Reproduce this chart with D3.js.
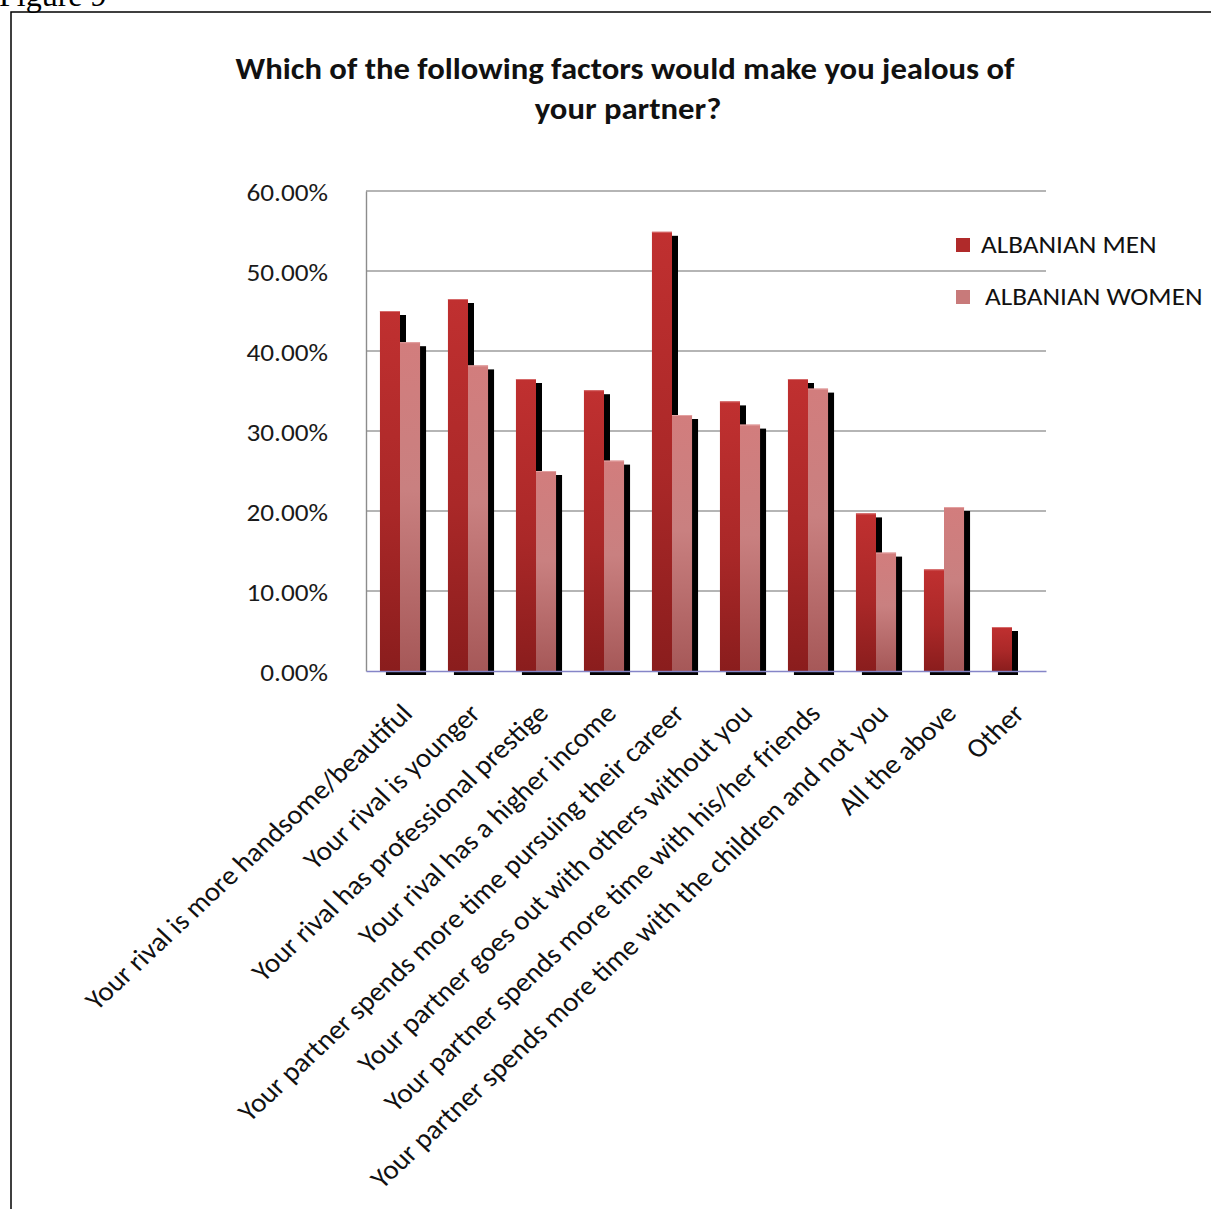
<!DOCTYPE html>
<html>
<head>
<meta charset="utf-8">
<script src="https://cdn.jsdelivr.net/npm/d3@7"></script>
<style>
  html, body { margin: 0; padding: 0; background: #ffffff; }
  svg { display: block; }
</style>
</head>
<body>
<script>
// Survey answers: share of respondents who would become jealous, by factor
const categories = [
  "Your rival is more handsome/beautiful",
  "Your rival is younger",
  "Your rival has professional prestige",
  "Your rival has a higher income",
  "Your partner spends more time pursuing their career",
  "Your partner goes out with others without you",
  "Your partner spends more time with his/her friends",
  "Your partner spends more time with the children and not you",
  "All the above",
  "Other"
];
const seriesNames = ["ALBANIAN MEN", "ALBANIAN WOMEN"];
const menValues   = [45.0, 46.5, 36.5, 35.1, 54.9, 33.7, 36.5, 19.7, 12.7, 5.5];
const womenValues = [41.1, 38.2, 25.0, 26.3, 32.0, 30.8, 35.3, 14.8, 20.5, 0];
const yTicks = [0, 10, 20, 30, 40, 50, 60];
const titleLines = ["Which of the following factors would make you jealous of", "your partner?"];
const captionText = "Figure 9";

const W = 1211, H = 1209;
const font = "Carlito, Calibri, Lato, sans-serif";
const stretch = 1.09;           // text is drawn slightly wide
const plot = { left: 366, right: 1046, top: 191, bottom: 671 };

const svg = d3.select("body").append("svg")
  .attr("width", W).attr("height", H);

// caption above the frame
svg.append("text")
  .attr("x", -1).attr("y", 6)
  .attr("font-family", "'Liberation Serif', 'Times New Roman', serif")
  .attr("font-size", 32).attr("fill", "#000")
  .text(captionText);

// frame around the chart
svg.append("rect")
  .attr("x", 11).attr("y", 12).attr("width", W + 20).attr("height", H + 20)
  .attr("fill", "none").attr("stroke", "#000").attr("stroke-width", 1.5);

// gradients for the two series
const defs = svg.append("defs");
const gMen = defs.append("linearGradient").attr("id", "gradMen")
  .attr("x1", 0).attr("y1", 0).attr("x2", 0).attr("y2", 1);
gMen.append("stop").attr("offset", "0%").attr("stop-color", "#c03030");
gMen.append("stop").attr("offset", "55%").attr("stop-color", "#aa2828");
gMen.append("stop").attr("offset", "100%").attr("stop-color", "#8a1d1d");
const gWomen = defs.append("linearGradient").attr("id", "gradWomen")
  .attr("x1", 0).attr("y1", 0).attr("x2", 0).attr("y2", 1);
gWomen.append("stop").attr("offset", "0%").attr("stop-color", "#d27d7d");
gWomen.append("stop").attr("offset", "45%").attr("stop-color", "#c98080");
gWomen.append("stop").attr("offset", "100%").attr("stop-color", "#a65858");
const fills = ["url(#gradMen)", "url(#gradWomen)"];
const legendFills = ["#b02a2a", "#c87a7a"];
const topEdge = ["#d66a6a", "#e3a0a0"];

// title
titleLines.forEach((line, i) => {
  svg.append("text")
    .attr("transform", `translate(${i === 0 ? 625 : 628},${79 + i * 40}) scale(${stretch},1)`)
    .attr("text-anchor", "middle")
    .attr("font-family", font).attr("font-weight", "bold")
    .attr("font-size", 30).attr("fill", "#111")
    .text(line);
});

// scales
const x0 = d3.scaleBand().domain(categories)
  .range([plot.left, plot.right]).paddingInner(0.41).paddingOuter(0.205);
const x1 = d3.scaleBand().domain(seriesNames).range([0, x0.bandwidth()]);
const y = d3.scaleLinear().domain([0, 60]).range([plot.bottom, plot.top]);

// horizontal gridlines
svg.append("g").selectAll("line").data(yTicks.filter(d => d > 0)).join("line")
  .attr("x1", plot.left).attr("x2", plot.right)
  .attr("y1", d => y(d)).attr("y2", d => y(d))
  .attr("stroke", "#9c9c9c").attr("stroke-width", 1.4);

// bar data
const bars = [];
categories.forEach((c, i) => {
  [menValues[i], womenValues[i]].forEach((v, s) => {
    if (v > 0) bars.push({ cat: c, series: seriesNames[s], s, value: v });
  });
});

// drop shadows behind the bars
svg.append("g").selectAll("rect").data(bars).join("rect")
  .attr("x", d => x0(d.cat) + x1(d.series) + 6)
  .attr("y", d => y(d.value) + 4)
  .attr("width", x1.bandwidth())
  .attr("height", d => y(0) - y(d.value))
  .attr("fill", "#000");

// bars
const barG = svg.append("g");
barG.selectAll("rect").data(bars).join("rect")
  .attr("x", d => x0(d.cat) + x1(d.series))
  .attr("y", d => y(d.value))
  .attr("width", x1.bandwidth())
  .attr("height", d => y(0) - y(d.value))
  .attr("fill", d => fills[d.s]);
barG.selectAll("line").data(bars).join("line")
  .attr("x1", d => x0(d.cat) + x1(d.series))
  .attr("x2", d => x0(d.cat) + x1(d.series) + x1.bandwidth())
  .attr("y1", d => y(d.value) + 0.5).attr("y2", d => y(d.value) + 0.5)
  .attr("stroke", d => topEdge[d.s]).attr("stroke-width", 1);

// y axis
const yAxis = svg.append("g")
  .attr("transform", `translate(${plot.left},0)`)
  .call(d3.axisLeft(y).tickValues(yTicks).tickSize(0)
    .tickFormat(d => d.toFixed(2) + "%"));
yAxis.select(".domain").attr("stroke", "#8c8c8c").attr("stroke-width", 1.4);
yAxis.selectAll("text")
  .attr("x", -38 / stretch).attr("dy", "0.36em")
  .attr("transform", `scale(${stretch},1)`)
  .attr("font-family", font).attr("font-size", 25).attr("fill", "#1a1a1a");

// x axis with slanted category labels
const labelStretch = 1.07;
const xAxis = svg.append("g")
  .attr("transform", `translate(0,${plot.bottom})`)
  .call(d3.axisBottom(x0).tickSize(0).tickSizeOuter(0));
xAxis.select(".domain").attr("stroke", "#8585c8").attr("stroke-width", 1.4);
xAxis.selectAll("text")
  .attr("x", 0).attr("y", 0).attr("dy", 0)
  .attr("text-anchor", "end")
  .attr("transform", `translate(14,44) scale(${labelStretch},1) rotate(-45)`)
  .attr("font-family", font).attr("font-size", 27).attr("fill", "#111");

// legend
const legend = svg.append("g");
seriesNames.forEach((name, i) => {
  const ly = 245 + i * 52;
  legend.append("rect")
    .attr("x", 956).attr("y", ly - 7).attr("width", 14).attr("height", 14)
    .attr("fill", legendFills[i]);
  legend.append("text")
    .attr("transform", `translate(${i === 0 ? 981 : 985},${ly + 8}) scale(${stretch},1)`)
    .attr("font-family", font).attr("font-size", 25).attr("fill", "#111")
    .text(name);
});
</script>
</body>
</html>
